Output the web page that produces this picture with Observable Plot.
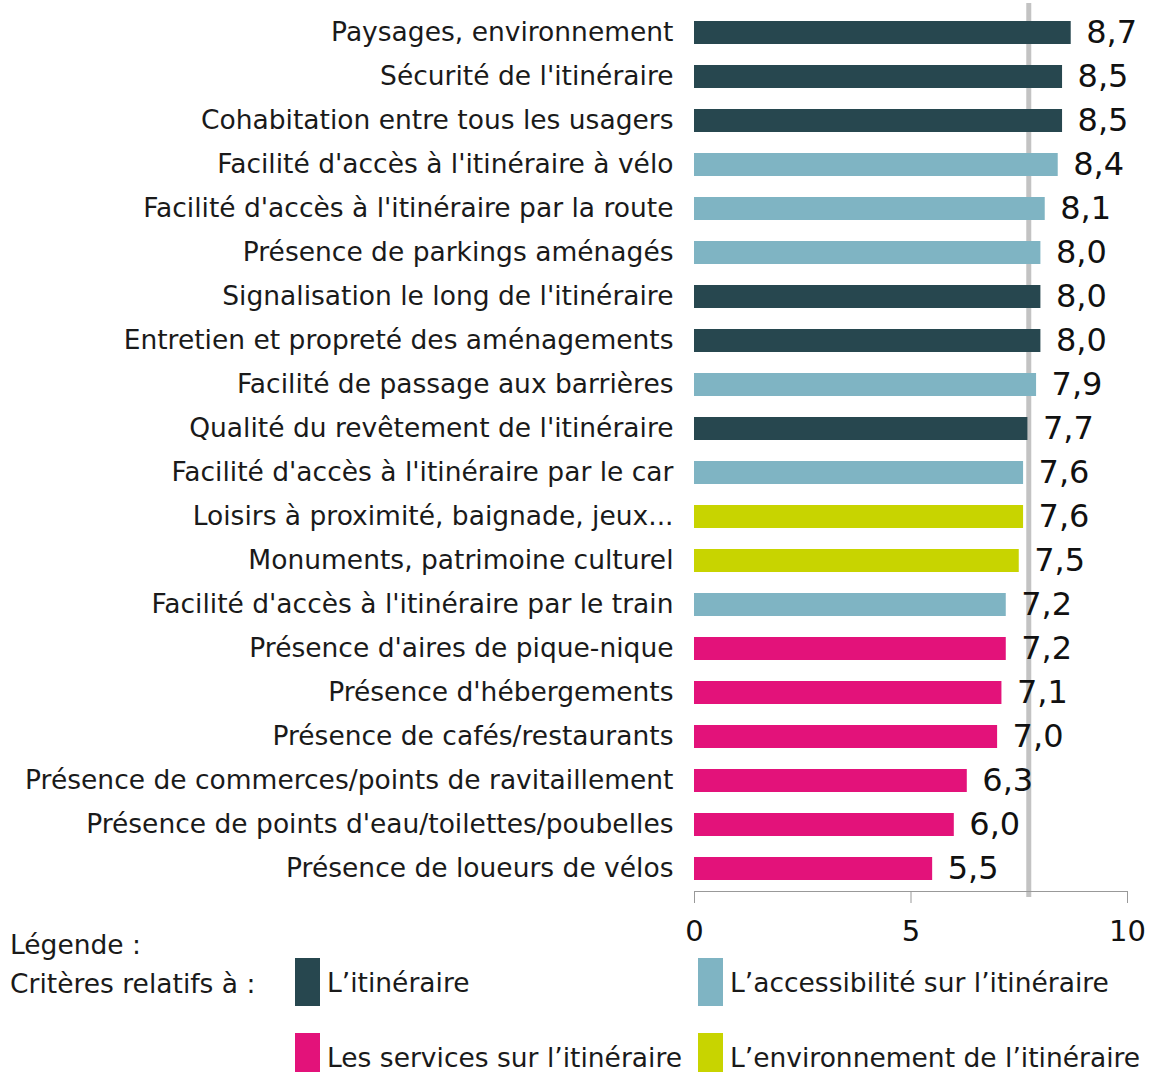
<!DOCTYPE html>
<html>
<head>
<meta charset="utf-8">
<script src="https://cdn.jsdelivr.net/npm/d3@7"></script>
<script src="https://cdn.jsdelivr.net/npm/@observablehq/plot@0.6"></script>
<style>
  body { margin: 0; background: #fff; font-family: "DejaVu Sans", Verdana, sans-serif; color: #1a1a1a; }
  #wrap { position: relative; width: 1149px; height: 1072px; overflow: hidden; }
  #chart { position: absolute; left: 0; top: 0; }
  .lg { position: absolute; font-size: 26.5px; line-height: 26px; height: 26px; white-space: nowrap; }
  .sw { position: absolute; width: 25px; height: 48px; }
</style>
</head>
<body>
<div id="wrap">
  <div id="chart"></div>
  <div id="legend"></div>
</div>
<script>
const categories = [
  "Paysages, environnement",
  "Sécurité de l'itinéraire",
  "Cohabitation entre tous les usagers",
  "Facilité d'accès à l'itinéraire à vélo",
  "Facilité d'accès à l'itinéraire par la route",
  "Présence de parkings aménagés",
  "Signalisation le long de l'itinéraire",
  "Entretien et propreté des aménagements",
  "Facilité de passage aux barrières",
  "Qualité du revêtement de l'itinéraire",
  "Facilité d'accès à l'itinéraire par le car",
  "Loisirs à proximité, baignade, jeux...",
  "Monuments, patrimoine culturel",
  "Facilité d'accès à l'itinéraire par le train",
  "Présence d'aires de pique-nique",
  "Présence d'hébergements",
  "Présence de cafés/restaurants",
  "Présence de commerces/points de ravitaillement",
  "Présence de points d'eau/toilettes/poubelles",
  "Présence de loueurs de vélos"
];
const values = [8.7, 8.5, 8.5, 8.4, 8.1, 8.0, 8.0, 8.0, 7.9, 7.7, 7.6, 7.6, 7.5, 7.2, 7.2, 7.1, 7.0, 6.3, 6.0, 5.5];
const groupOf = ["it", "it", "it", "acc", "acc", "acc", "it", "it", "acc", "it", "acc", "env", "env", "acc", "srv", "srv", "srv", "srv", "srv", "srv"];
const groupKeys = ["it", "acc", "srv", "env"];
const groupLabels = ["L’itinéraire", "L’accessibilité sur l’itinéraire", "Les services sur l’itinéraire", "L’environnement de l’itinéraire"];
const groupColors = ["#27474f", "#7fb4c3", "#e3127a", "#c8d400"];
const averageValue = [7.72];
const xTicks = [0, 5, 10];
const legendTitle = "Légende :";
const legendSubtitle = "Critères relatifs à :";

const data = categories.map((c, i) => ({label: c, value: values[i], group: groupOf[i]}));
const fmt = v => v.toFixed(1).replace(".", ",");

const chart = Plot.plot({
  width: 1149,
  height: 955,
  marginLeft: 694,
  marginRight: 22,
  marginTop: 9,
  marginBottom: 64,
  style: {fontFamily: "'DejaVu Sans', Verdana, sans-serif", fontSize: "26.5px", color: "#1a1a1a", background: "#fff"},
  x: {domain: [0, 10]},
  y: {domain: categories, paddingInner: 0.48, paddingOuter: 0.24},
  color: {domain: groupKeys, range: groupColors},
  marks: [
    Plot.ruleX(averageValue, {stroke: "#c3c3c3", strokeWidth: 5, insetTop: -6, insetBottom: -6}),
    Plot.barX(data, {x: "value", y: "label", fill: "group"}),
    Plot.text(data, {x: "value", y: "label", text: d => fmt(d.value), textAnchor: "start", dx: 15, fontSize: 32, fill: "#111"}),
    Plot.axisY({tickSize: 0, tickPadding: 21, label: null, fontSize: 26.5}),
    Plot.axisX({ticks: xTicks, tickSize: 12, tickPadding: 17, label: null, fontSize: 29, stroke: "#999", color: "#111"}),
    Plot.frame({anchor: "bottom", stroke: "#999"})
  ]
});
document.getElementById("chart").appendChild(chart);

// legend
const lg = document.getElementById("legend");
function addText(txt, left, centerY) {
  const d = document.createElement("div");
  d.className = "lg";
  d.textContent = txt;
  d.style.left = left + "px";
  d.style.top = (centerY - 13) + "px";
  lg.appendChild(d);
}
addText(legendTitle, 10, 945);
addText(legendSubtitle, 10, 984);
const slots = [[295, 958], [698, 958], [295, 1033], [698, 1033]];
groupKeys.forEach((k, i) => {
  const [x, y] = slots[i];
  const s = document.createElement("div");
  s.className = "sw";
  s.style.left = x + "px";
  s.style.top = y + "px";
  s.style.background = groupColors[i];
  lg.appendChild(s);
  addText(groupLabels[i], x + 32, y + 25);
});
</script>
</body>
</html>
